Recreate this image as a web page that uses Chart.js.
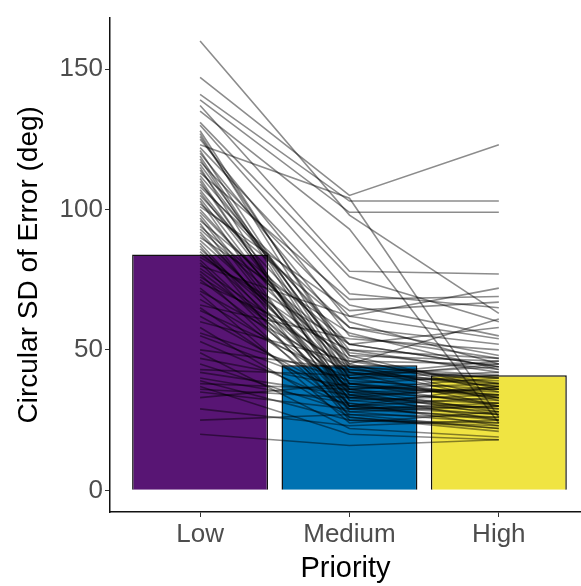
<!DOCTYPE html>
<html>
<head>
<meta charset="utf-8">
<script src="https://cdn.jsdelivr.net/npm/chart.js@4"></script>
<style>
  html, body { margin: 0; padding: 0; background: #fff; }
  #chart { display: block; }
</style>
</head>
<body>
<canvas id="chart" width="581" height="586"></canvas>
<script>
// categories and bar means (deg)
const categories = ["Low", "Medium", "High"];
const barMeans = [84, 44.5, 41];
const barColors = ["#581574", "#0072b2", "#f0e442"];
const yTicks = [0, 50, 100, 150];

// per-subject circular SD at each priority level
const low = [160, 147, 141, 139, 137, 135, 131, 130, 128, 127, 126, 125, 123, 122, 121, 120, 119, 118, 117, 116,
  115, 114, 113, 112, 111, 110, 109, 108, 107, 106, 105, 104, 103, 102, 101, 100, 99, 98, 97, 96,
  95, 94, 93, 92, 91, 90, 89, 88, 87, 86, 85, 84, 83, 82, 81, 80, 79, 78, 77, 76,
  75, 74, 72, 71, 70, 68, 66, 65, 64, 62, 60, 58, 56, 55, 53, 50, 49, 47, 45, 43,
  42, 40, 39, 38, 37, 36, 35, 33, 29, 25, 20];
const medium = [98, 105, 103, 99, 78, 93, 76, 70, 46, 42, 48, 60, 104, 66, 40, 55, 38, 36, 62, 44,
  30, 45, 68, 50, 32, 34, 52, 58, 40, 38, 48, 35, 28, 58, 64, 42, 44, 32, 30, 52,
  26, 49, 45, 34, 36, 56, 41, 30, 25, 40, 36, 47, 52, 33, 29, 62, 43, 38, 27, 44,
  35, 50, 31, 42, 24, 37, 54, 29, 40, 33, 46, 26, 39, 35, 30, 43, 22, 37, 28, 41,
  34, 31, 25, 36, 20, 33, 29, 38, 23, 27, 16];
const high = [63, 123, 103, 99, 77, 24, 60, 65, 38, 30, 36, 45, 26, 55, 33, 47, 41, 28, 72, 40,
  25, 33, 69, 42, 28, 36, 58, 52, 45, 30, 46, 27, 24, 48, 67, 37, 32, 34, 37, 44,
  22, 43, 61, 25, 31, 43, 46, 27, 23, 39, 40, 35, 44, 29, 30, 54, 37, 33, 26, 41,
  36, 47, 23, 38, 28, 34, 50, 31, 42, 37, 45, 21, 36, 32, 33, 40, 19, 35, 30, 44,
  29, 27, 24, 38, 18, 31, 26, 34, 25, 22, 18];

const datasets = [{
  type: "bar",
  data: barMeans.map((v, i) => ({ x: i + 1, y: v })),
  backgroundColor: barColors,
  borderColor: "#111",
  borderWidth: 1.5,
  barPercentage: 0.91,
  categoryPercentage: 1,
  order: 10
}];

low.forEach((v, i) => {
  datasets.push({
    type: "line",
    data: [{ x: 1, y: v }, { x: 2, y: medium[i] }, { x: 3, y: high[i] }],
    borderColor: "rgba(0,0,0,0.45)",
    borderWidth: 1.6,
    pointRadius: 0,
    fill: false,
    tension: 0,
    order: 0
  });
});

const whiteBg = {
  id: "whiteBg",
  beforeDraw(chart) {
    const ctx = chart.ctx;
    ctx.save();
    ctx.fillStyle = "#fff";
    ctx.fillRect(0, 0, chart.width, chart.height);
    ctx.restore();
  }
};

new Chart(document.getElementById("chart"), {
  data: { datasets },
  options: {
    responsive: false,
    animation: false,
    events: [],
    layout: { padding: { top: 12, right: 0, bottom: 0, left: 0 } },
    plugins: { legend: { display: false }, tooltip: { enabled: false } },
    scales: {
      x: {
        type: "linear",
        min: 0.397,
        max: 3.55,
        offset: false,
        afterBuildTicks: (scale) => { scale.ticks = categories.map((c, i) => ({ value: i + 1 })); },
        afterFit: (scale) => { scale.height = 74; },
        ticks: {
          callback: (value) => categories[value - 1],
          color: "#4d4d4d",
          font: { family: "Liberation Sans", size: 26 },
          padding: 2,
          maxRotation: 0
        },
        grid: { offset: false, drawOnChartArea: false, drawTicks: true, tickLength: 5, color: "#333" },
        border: { display: true, color: "#111", width: 1.5 },
        title: {
          display: true,
          text: "Priority",
          color: "#000",
          font: { family: "Liberation Sans", size: 29 },
          padding: { top: 0, bottom: 0 }
        }
      },
      y: {
        min: -7.7,
        max: 168.3,
        afterBuildTicks: (scale) => { scale.ticks = yTicks.map((v) => ({ value: v })); },
        afterFit: (scale) => { scale.width = 110; },
        ticks: {
          color: "#4d4d4d",
          font: { family: "Liberation Sans", size: 26 },
          padding: 2
        },
        grid: { drawOnChartArea: false, drawTicks: true, tickLength: 5, color: "#333" },
        border: { display: true, color: "#111", width: 1.5 },
        title: {
          display: true,
          text: "Circular SD of Error (deg)",
          color: "#000",
          font: { family: "Liberation Sans", size: 28 },
          padding: { top: 12, bottom: 0 }
        }
      }
    }
  },
  plugins: [whiteBg]
});
</script>
</body>
</html>
